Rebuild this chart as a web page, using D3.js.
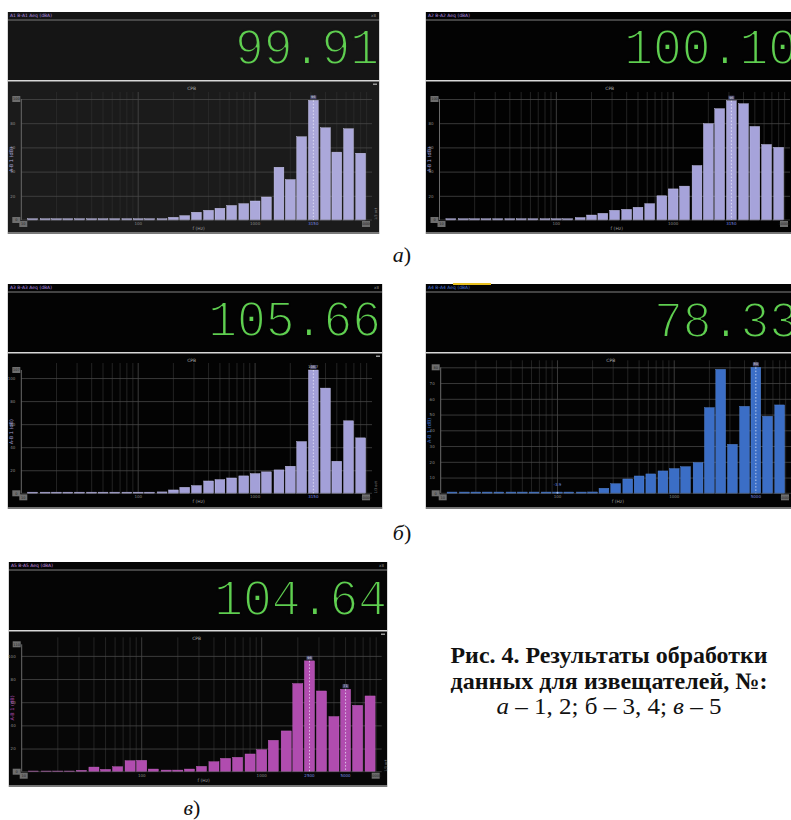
<!DOCTYPE html>
<html><head><meta charset="utf-8">
<script src="https://cdn.jsdelivr.net/npm/d3@7"></script>
<style>body{margin:0;background:#fff} svg{display:block}</style>
</head><body>
<svg id="fig" width="791" height="820"></svg>
<script>
// 1/3-octave band centres (Hz)
const bands = [12.5,16,20,25,31.5,40,50,63,80,100,125,160,200,250,315,400,500,630,800,1000,1250,1600,2000,2500,3150,4000,5000,6300,8000];
// band levels
const levelsA1 = [1,1,1,1,1,1,1,1,1,1,1,1,2.2,3.6,6.4,8.0,9.7,12.0,13.5,15.7,19.0,43.6,33.4,68.8,98.9,76.2,56.1,75.4,55.2];
const levelsA2 = [1,1,1,1,1,1,1,1,1,1,1,2.0,4.1,5.5,8.0,8.8,10.5,13.5,20.0,25.7,28.0,45.0,79.6,92.0,98.6,96.1,77.3,62.4,60.0];
const levelsB1 = [1,1,1,1,1,1,1,1,1,1,1,1.2,2.9,5.2,6.7,10.7,11.9,13.3,15.1,17.1,18.6,20.3,23.5,44.9,107,91.3,27.8,62.9,48.1];
const levelsB2 = [0.8,0.8,0.8,0.8,0.8,0.8,0.8,0.8,0.8,0.8,0.8,0.8,0.85,3.2,6.1,9.1,11.0,12.3,14.2,15.7,16.9,19.5,54.4,78.7,31.1,55.2,80,48.9,56.1];
const levelsC  = [0.6,0.6,0.6,0.6,1.2,4.0,2.0,4.3,9.5,9.8,2.3,1.4,1.4,2.3,4.6,8.6,11.5,12.4,15.3,19.0,27.1,35.2,76.1,95.7,69.7,47.6,71.2,57.3,65.4];
// overall readouts (dBA)
const readouts = ["99.91","100.10","105.66","78.33","104.64"];
// axis labels
const xTickLabels = [10,100,1000,10000];
const markerBands = [[3150],[3150],[3150],[5000],[2500,5000]];
const markerTexts = [["96"],["96"],["106.7"],["80"],["96","71"]];
const chartTitle = "CPB";
const xAxisTitle = "f (Hz)";
const yAxisTitle = "A-B 1 (dB)";
const channelTitles = ["A1 B-A1 Aeq (dBA)","A2 B-A2 Aeq (dBA)","A3 B-A3 Aeq (dBA)","A4 B-A4 Aeq (dBA)","A5 B-A5 Aeq (dBA)"];
const subLabels = ["а","б","в"];
const captionLines = ["Рис. 4. Результаты обработки","данных для извещателей, №:"];

const svg = d3.select("#fig");

const panels = [
 {x:7,  y:12,  w:373, hh:68, ch:153, plot:{l:21.3,r:372,t:99,b:220}, vals:levelsA1, yMax:100, yStep:20,
  fill:"#aba8da", stroke:"#d2d0f2", headBg:"#151515", chartBg:"#1b1b1b", numR:379, numB:64, titleCol:"#b48ce0"},
 {x:425, y:12, w:373, hh:68, ch:153, plot:{l:439.5,r:790,t:99,b:220}, vals:levelsA2, yMax:100, yStep:20,
  fill:"#a6a3da", stroke:"#cfcdf2", headBg:"#030303", chartBg:"#020202", numR:797, numB:64, titleCol:"#b48ce0"},
 {x:7,  y:284, w:376, hh:68, ch:156, plot:{l:21.3,r:372,t:370,b:493.3}, vals:levelsB1, yMax:107, yStep:20,
  fill:"#a3a0d8", stroke:"#cbc9f0", headBg:"#030303", chartBg:"#030303", numR:381, numB:336, titleCol:"#b48ce0"},
 {x:425, y:284, w:373, hh:68, ch:156, plot:{l:440.7,r:791,t:367.3,b:493.3}, vals:levelsB2, yMax:80, yStep:10,
  fill:"#3b6ec6", stroke:"#5a8ad8", headBg:"#030303", chartBg:"#030303", numR:798, numB:337, titleCol:"#4a74d8", yellow:true},
 {x:8,  y:562, w:380, hh:68, ch:156, plot:{l:21.7,r:381.7,t:644.3,b:771.7}, vals:levelsC, yMax:110, yStep:20,
  fill:"#b04caf", stroke:"#c86ac6", headBg:"#050505", chartBg:"#070707", numR:387, numB:615, titleCol:"#c890e0"}
];

panels.forEach((p,i)=>{
  const g = svg.append("g");
  const inPage = p.x+p.w < 791;
  // outer frame
  g.append("rect").attr("x",p.x).attr("y",p.y).attr("width",p.w).attr("height",p.hh+p.ch+1)
    .attr("fill","#d8d8d8");
  // header
  g.append("rect").attr("x",p.x+1).attr("y",p.y).attr("width",p.w-2).attr("height",p.hh)
    .attr("fill",p.headBg);
  if(p.yellow) g.append("rect").attr("x",p.x+28).attr("y",p.y-1).attr("width",38).attr("height",2).attr("fill","#e8c020");
  g.append("line").attr("x1",p.x+1).attr("x2",p.x+p.w-1).attr("y1",p.y+8).attr("y2",p.y+8)
    .attr("stroke","#5a5a5a").attr("stroke-width",1.5);
  g.append("text").attr("x",p.x+3).attr("y",p.y+5).attr("font-size",4.5).attr("font-family","DejaVu Sans")
    .attr("fill",p.titleCol).text(channelTitles[i]);
  if(inPage) g.append("text").attr("x",p.x+p.w-4).attr("y",p.y+5).attr("font-size",4).attr("text-anchor","end")
    .attr("font-family","DejaVu Sans").attr("fill","#888").text("x8");
  g.append("text").attr("x",p.numR).attr("y",p.numB).attr("text-anchor","end")
    .attr("font-family","Liberation Mono").attr("font-size",48).attr("fill","#5fcf50")
    .attr("stroke",p.headBg).attr("stroke-width",1.8)
    .attr("transform",`translate(0,${p.numB}) scale(1,1.08) translate(0,${-p.numB})`)
    .text(readouts[i]);
  // chart panel
  const cy = p.y+p.hh+1.5;
  g.append("rect").attr("x",p.x+1).attr("y",cy).attr("width",p.w-2).attr("height",p.ch-2)
    .attr("fill",p.chartBg);
  g.append("rect").attr("x",p.x+1).attr("y",cy+p.ch-2).attr("width",p.w-2).attr("height",1.5).attr("fill","#7a7a7a");
  if(inPage) g.append("rect").attr("x",p.x+p.w-7).attr("y",cy+2).attr("width",4).attr("height",1.5).attr("fill","#999");

  const pl = p.plot;
  const x = d3.scaleLog().domain([10,10000]).range([pl.l,pl.r]);
  const y = d3.scaleLinear().domain([0,p.yMax]).range([pl.b,pl.t]);

  // vertical grid
  const minor = [];
  [10,100,1000].forEach(d=>{for(let k=2;k<=9;k++) minor.push(d*k);});
  g.append("g").selectAll("line").data(minor).join("line")
    .attr("x1",d=>x(d)).attr("x2",d=>x(d)).attr("y1",pl.t-7).attr("y2",pl.b)
    .attr("stroke","#2c2c2c").attr("stroke-width",0.8);
  g.append("g").selectAll("line").data([100,1000]).join("line")
    .attr("x1",d=>x(d)).attr("x2",d=>x(d)).attr("y1",pl.t-7).attr("y2",pl.b)
    .attr("stroke","#4a4a4a").attr("stroke-width",0.8);
  // horizontal grid via axis
  const yTicks = d3.range(p.yStep, p.yMax+0.01, p.yStep).filter(v=>v<=p.yMax);
  const ya = g.append("g").attr("transform",`translate(${pl.l},0)`)
    .call(d3.axisLeft(y).tickValues(yTicks).tickSize(-(pl.r-pl.l)).tickPadding(6).tickFormat(d3.format("d")));
  ya.select(".domain").remove();
  ya.selectAll(".tick line").attr("stroke","#474747").attr("stroke-width",0.8);
  ya.selectAll(".tick text").attr("fill","#8a8a8a").attr("font-size",4).attr("font-family","DejaVu Sans")
    .attr("opacity",d=>d>=p.yMax-p.yStep*0.3?0:1);
  g.append("line").attr("x1",pl.l).attr("x2",pl.l).attr("y1",pl.t).attr("y2",pl.b).attr("stroke","#6a6a6a");

  // bars
  const wBar = (x(Math.pow(10,0.05))-x(Math.pow(10,-0.05)))*0.84;
  g.append("g").selectAll("rect").data(bands.map((f,k)=>({f,v:p.vals[k]}))).join("rect")
    .attr("x",d=>x(d.f)-wBar/2).attr("width",wBar)
    .attr("y",d=>y(d.v)).attr("height",d=>y(0)-y(d.v))
    .attr("fill",p.fill).attr("stroke",p.stroke).attr("stroke-width",0.4);
  g.append("line").attr("x1",pl.l).attr("x2",pl.r).attr("y1",pl.b).attr("y2",pl.b).attr("stroke","#555").attr("stroke-width",0.6);

  // markers
  markerBands[i].forEach((mf,j)=>{
    const k = bands.indexOf(mf);
    const top = y(p.vals[k]);
    g.append("line").attr("x1",x(mf)).attr("x2",x(mf)).attr("y1",top).attr("y2",pl.b)
      .attr("stroke","#f2f2ff").attr("stroke-width",0.9).attr("stroke-dasharray","1.5,1.8").attr("opacity",0.8);
    g.append("rect").attr("x",x(mf)-3).attr("y",top-5).attr("width",6).attr("height",4).attr("fill","#4a4a70");
    g.append("text").attr("x",x(mf)).attr("y",top-2).attr("text-anchor","middle").attr("font-size",3.5)
      .attr("font-family","DejaVu Sans").attr("fill","#ddd").text(markerTexts[i][j]);
    g.append("text").attr("x",x(mf)).attr("y",pl.b+5).attr("text-anchor","middle").attr("font-size",4)
      .attr("font-family","DejaVu Sans").attr("fill","#7b8be0").text(mf);
  });
  if(i===3){
    g.append("circle").attr("cx",x(100)).attr("cy",pl.b-0.5).attr("r",1).attr("fill","#9ab8f0");
    g.append("text").attr("x",x(100)).attr("y",pl.b-7).attr("text-anchor","middle").attr("font-size",4)
      .attr("font-family","DejaVu Sans").attr("fill","#6a8ae0").text("-3.9");
  }

  // axis boxes and labels
  const box = (cx,cyy,txt)=>{
    g.append("rect").attr("x",cx-4).attr("y",cyy-3).attr("width",8).attr("height",6).attr("fill","#6e6e6e");
    g.append("text").attr("x",cx).attr("y",cyy+1.3).attr("text-anchor","middle").attr("font-size",3.5)
      .attr("font-family","DejaVu Sans").attr("fill","#222").text(txt);
  };
  box(pl.l-5, pl.t, d3.format("d")(p.yMax));
  box(pl.l-5, pl.b, "0");
  box(pl.l+2, pl.b+4, xTickLabels[0]);
  box(pl.r-6, pl.b+4, xTickLabels[3]);
  g.append("g").selectAll("text").data(xTickLabels.slice(1,3)).join("text")
    .attr("x",d=>x(d)).attr("y",pl.b+5).attr("text-anchor","middle").attr("font-size",4)
    .attr("font-family","DejaVu Sans").attr("fill","#888").text(d=>d);
  g.append("text").attr("x",(pl.l+pl.r)/2-5).attr("y",cy+8).attr("text-anchor","middle").attr("font-size",4.5)
    .attr("font-family","DejaVu Sans").attr("fill","#aaa").text(chartTitle);
  g.append("text").attr("x",(pl.l+pl.r)/2+2).attr("y",pl.b+10).attr("text-anchor","middle").attr("font-size",4.5)
    .attr("font-family","DejaVu Sans").attr("fill","#999").text(xAxisTitle);
  g.append("text").attr("transform",`translate(${p.x+6},${(pl.t+pl.b)/2}) rotate(-90)`).attr("text-anchor","middle")
    .attr("font-size",5).attr("font-family","DejaVu Sans").attr("fill",p.fill).text(yAxisTitle);
  if(inPage) g.append("text").attr("transform",`translate(${pl.r+5},${pl.b-6}) rotate(-90)`).attr("text-anchor","middle")
    .attr("font-size",3.5).attr("font-family","DejaVu Sans").attr("fill","#888").text("1/3 oct");
});

// sub labels
const sub = [[402,262],[402,540],[192,815]];
sub.forEach((s,i)=>{
  const t = svg.append("text").attr("x",s[0]).attr("y",s[1]).attr("text-anchor","middle")
    .attr("font-family","Liberation Serif").attr("font-size",22).attr("fill","#111");
  t.append("tspan").attr("font-style","italic").text(subLabels[i]);
  t.append("tspan").text(")");
});
// caption
const capW = [317,317];
captionLines.forEach((l,i)=>{
  svg.append("text").attr("x",609).attr("y",663+i*25.5).attr("text-anchor","middle")
    .attr("font-family","Liberation Serif").attr("font-weight","bold").attr("font-size",23.5).attr("fill","#111")
    .attr("textLength",capW[i]).attr("lengthAdjust","spacingAndGlyphs").text(l);
});
const c3 = svg.append("text").attr("x",609).attr("y",714).attr("text-anchor","middle")
  .attr("font-family","Liberation Serif").attr("font-size",23.5).attr("fill","#111")
  .attr("textLength",225).attr("lengthAdjust","spacingAndGlyphs");
c3.append("tspan").attr("font-style","italic").text("а");
c3.append("tspan").text(" – 1, 2; б – 3, 4; ");
c3.append("tspan").attr("font-style","italic").text("в");
c3.append("tspan").text(" – 5");
</script>
</body></html>
